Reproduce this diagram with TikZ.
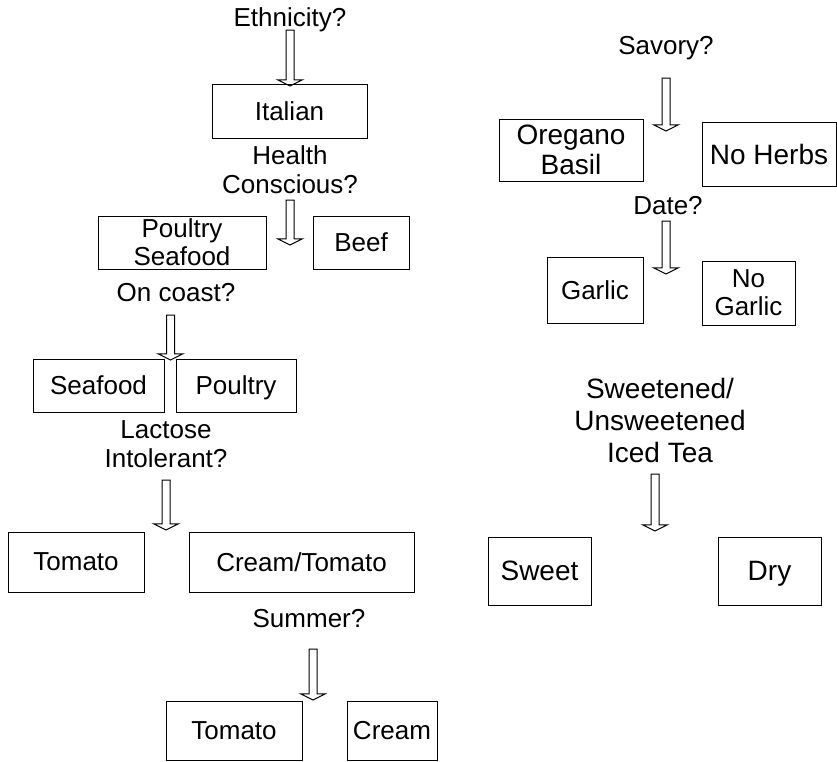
\documentclass[tikz,border=0pt]{standalone}
\usepackage{fontspec}
\setmainfont{Liberation Sans}
\usetikzlibrary{shapes.arrows}
\begin{document}
\begin{tikzpicture}[x=1pt, y=-1pt, line width=1pt,
  choice/.style={draw, inner sep=0pt, align=center, text depth=0pt, font=\fontsize{26}{28}\selectfont},
  bigchoice/.style={choice, font=\fontsize{28}{30}\selectfont},
  question/.style={inner sep=0pt, align=center, font=\fontsize{26}{29}\selectfont},
  downarrow/.style={single arrow, draw, rotate=-90, inner sep=0pt, text height=3.5pt, text depth=3.5pt,
    single arrow head extend=8.5pt, single arrow tip angle=127}]
\useasboundingbox (0,0) rectangle (837,761);
% pasta tree
\node [question](q1) at (290,20) {Ethnicity?};
\node [downarrow, minimum height=56](a1) at (290,57) {};
\node [choice, minimum width=155, minimum height=54](italian) at (289.5,111) {Italian};
\node [question](q2) at (290,170) {Health\\Conscious?};
\node [downarrow, minimum height=45](a2) at (290,221.5) {};
\node [choice, minimum width=168, minimum height=53](ps) at (182,242.5) {Poultry\\Seafood};
\node [choice, minimum width=96, minimum height=53](beef) at (361,242.5) {Beef};
\node [question](q3) at (176,293) {On coast?};
\node [downarrow, minimum height=45](a3) at (170.5,336.5) {};
\node [choice, minimum width=131, minimum height=53](seafood) at (98.5,385.5) {Seafood};
\node [choice, minimum width=120, minimum height=53](poultry) at (236,385.5) {Poultry};
\node [question](q4) at (166,444) {Lactose\\Intolerant?};
\node [downarrow, minimum height=50](a4) at (166,504) {};
\node [choice, minimum width=136, minimum height=60](tomato) at (76,562) {Tomato};
\node [choice, minimum width=225, minimum height=60](creamtomato) at (301.5,562) {Cream/Tomato};
\node [question](q5) at (309,619) {Summer?};
\node [downarrow, minimum height=51](a5) at (313,673.5) {};
\node [choice, minimum width=136, minimum height=59](tomato2) at (234,730.5) {Tomato};
\node [choice, minimum width=90, minimum height=59](cream) at (392,730.5) {Cream};
% herbs tree
\node [question](q6) at (666,48) {Savory?};
\node [downarrow, minimum height=53](a6) at (666,103.5) {};
\node [bigchoice, minimum width=144, minimum height=62](oregano) at (571,150) {Oregano\\Basil};
\node [bigchoice, minimum width=134, minimum height=64](noherbs) at (769,154) {No Herbs};
\node [question](q7) at (668,206) {Date?};
\node [downarrow, minimum height=53](a7) at (666,246.5) {};
\node [choice, minimum width=96, minimum height=66](garlic) at (595,290) {Garlic};
\node [choice, minimum width=93, minimum height=64](nogarlic) at (748.5,293) {No\\Garlic};
% tea tree
\node [question, font=\fontsize{28}{32}\selectfont](q8) at (660,420) {Sweetened/\\Unsweetened\\Iced Tea};
\node [downarrow, minimum height=57](a8) at (655,501.5) {};
\node [bigchoice, minimum width=103, minimum height=68](sweet) at (539.5,571) {Sweet};
\node [bigchoice, minimum width=103, minimum height=68](dry) at (769.5,571) {Dry};
\end{tikzpicture}
\end{document}
